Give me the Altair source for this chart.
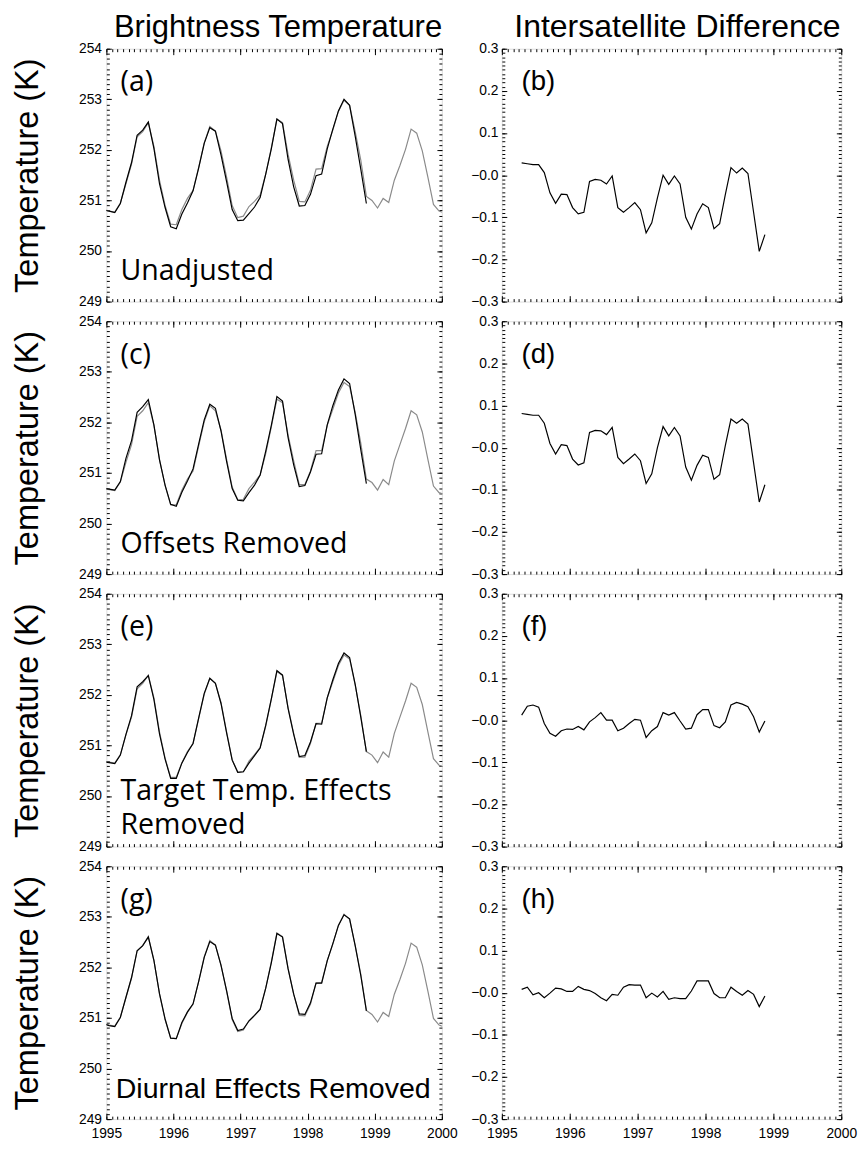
import altair as alt
import pandas as pd

FONT = "Liberation Sans"
FONT2 = "Open Sans"

# Monthly values; first value of each array belongs to month index k_start
# (k = 0 -> Jan 1995, plotted at mid-month)
gray_a = [250.82, 250.79, 250.77, 250.95, 251.33, 251.72, 252.26, 252.36, 252.54, 252.07,
          251.40, 250.90, 250.53, 250.52, 250.82, 251.04, 251.20, 251.65, 252.14, 252.46,
          252.37, 251.98, 251.46, 250.90, 250.66, 250.69, 250.88, 250.98, 251.11, 251.52,
          252.04, 252.61, 252.54, 251.91, 251.40, 250.98, 250.97, 251.20, 251.62, 251.63,
          252.07, 252.39, 252.76, 252.98, 252.88, 252.36, 251.80, 251.08, 251.00, 250.85,
          251.04, 250.96, 251.40, 251.69, 252.01, 252.41, 252.33, 251.98, 251.46, 250.92,
          250.79, 250.75]
black_a = [250.81, 250.79, 250.76, 250.94, 251.36, 251.75, 252.29, 252.39, 252.55, 252.03,
           251.33, 250.86, 250.48, 250.44, 250.73, 250.95, 251.19, 251.64, 252.13, 252.44,
           252.37, 251.90, 251.37, 250.82, 250.60, 250.61, 250.74, 250.87, 251.06, 251.52,
           252.02, 252.61, 252.52, 251.81, 251.27, 250.89, 250.90, 251.12, 251.49, 251.52,
           252.02, 252.41, 252.77, 253.00, 252.88, 252.27, 251.62, 250.94]
gray_c = [250.69, 250.67, 250.65, 250.82, 251.21, 251.56, 252.12, 252.23, 252.39, 251.94,
          251.27, 250.75, 250.37, 250.37, 250.66, 250.88, 251.04, 251.53, 252.01, 252.33,
          252.23, 251.85, 251.27, 250.72, 250.47, 250.48, 250.69, 250.82, 250.96, 251.38,
          251.91, 252.46, 252.39, 251.75, 251.24, 250.77, 250.77, 251.04, 251.44, 251.44,
          251.94, 252.26, 252.58, 252.79, 252.71, 252.20, 251.59, 250.88, 250.81, 250.66,
          250.87, 250.77, 251.24, 251.56, 251.88, 252.23, 252.15, 251.81, 251.27, 250.74,
          250.61, 250.57]
black_c = [250.70, 250.68, 250.66, 250.83, 251.29, 251.64, 252.20, 252.31, 252.45, 251.95,
           251.26, 250.76, 250.38, 250.34, 250.62, 250.84, 251.08, 251.57, 252.05, 252.36,
           252.28, 251.83, 251.23, 250.69, 250.46, 250.45, 250.61, 250.76, 250.96, 251.43,
           251.94, 252.51, 252.42, 251.70, 251.16, 250.73, 250.75, 251.02, 251.37, 251.38,
           251.95, 252.33, 252.64, 252.86, 252.77, 252.16, 251.46, 250.79]
gray_e = [250.69, 250.67, 250.65, 250.82, 251.21, 251.56, 252.12, 252.23, 252.39, 251.94,
          251.27, 250.75, 250.37, 250.37, 250.66, 250.88, 251.04, 251.53, 252.01, 252.33,
          252.23, 251.85, 251.27, 250.72, 250.47, 250.48, 250.69, 250.82, 250.96, 251.38,
          251.91, 252.46, 252.39, 251.75, 251.24, 250.77, 250.77, 251.04, 251.44, 251.44,
          251.94, 252.26, 252.58, 252.79, 252.71, 252.20, 251.59, 250.88, 250.81, 250.66,
          250.87, 250.77, 251.24, 251.56, 251.88, 252.23, 252.15, 251.81, 251.27, 250.74,
          250.61, 250.57]
black_e = [250.68, 250.66, 250.64, 250.81, 251.22, 251.59, 252.16, 252.26, 252.38, 251.91,
           251.23, 250.73, 250.35, 250.35, 250.65, 250.86, 251.04, 251.54, 252.03, 252.33,
           252.23, 251.83, 251.25, 250.71, 250.47, 250.48, 250.65, 250.80, 250.95, 251.40,
           251.92, 252.48, 252.39, 251.73, 251.22, 250.78, 250.80, 251.07, 251.43, 251.42,
           251.94, 252.30, 252.62, 252.83, 252.74, 252.21, 251.56, 250.88]
gray_g = [250.89, 250.86, 250.84, 251.02, 251.40, 251.79, 252.33, 252.43, 252.61, 252.14,
          251.47, 250.97, 250.60, 250.59, 250.89, 251.11, 251.27, 251.72, 252.21, 252.53,
          252.44, 252.05, 251.53, 250.97, 250.73, 250.76, 250.95, 251.05, 251.18, 251.59,
          252.11, 252.68, 252.61, 251.98, 251.47, 251.05, 251.04, 251.27, 251.69, 251.70,
          252.14, 252.46, 252.83, 253.05, 252.95, 252.43, 251.87, 251.15, 251.07, 250.92,
          251.11, 251.03, 251.47, 251.76, 252.08, 252.48, 252.40, 252.05, 251.53, 250.99,
          250.86, 250.82]
black_g = [250.88, 250.85, 250.83, 251.01, 251.41, 251.80, 252.33, 252.43, 252.60, 252.14,
           251.48, 250.98, 250.60, 250.59, 250.91, 251.12, 251.28, 251.72, 252.20, 252.51,
           252.44, 252.04, 251.54, 250.99, 250.75, 250.78, 250.94, 251.05, 251.17, 251.59,
           252.09, 252.67, 252.60, 251.97, 251.47, 251.08, 251.07, 251.30, 251.69, 251.69,
           252.13, 252.47, 252.83, 253.04, 252.96, 252.43, 251.84, 251.14]

diff_b = [0.029, 0.027, 0.025, 0.025, 0.006, -0.042, -0.067, -0.045, -0.046, -0.077,
          -0.092, -0.088, -0.015, -0.010, -0.012, -0.021, -0.002, -0.077, -0.088, -0.077,
          -0.065, -0.082, -0.137, -0.113, -0.054, 0.000, -0.022, -0.002, -0.021, -0.100,
          -0.128, -0.092, -0.068, -0.077, -0.127, -0.115, -0.046, 0.018, 0.005, 0.017,
          0.004, -0.088, -0.181, -0.141]
diff_d = [0.081, 0.079, 0.077, 0.077, 0.058, 0.010, -0.015, 0.007, 0.005, -0.027,
          -0.041, -0.036, 0.036, 0.041, 0.040, 0.031, 0.048, -0.023, -0.038, -0.027,
          -0.015, -0.031, -0.085, -0.062, 0.000, 0.050, 0.028, 0.048, 0.028, -0.046,
          -0.077, -0.042, -0.018, -0.023, -0.075, -0.064, 0.005, 0.068, 0.058, 0.068,
          0.056, -0.036, -0.129, -0.088]
diff_f = [0.012, 0.033, 0.036, 0.031, -0.008, -0.031, -0.038, -0.025, -0.021, -0.022,
          -0.015, -0.023, -0.004, 0.006, 0.018, 0.000, 0.000, -0.025, -0.019, -0.008,
          0.002, 0.000, -0.041, -0.025, -0.015, 0.018, 0.012, 0.018, -0.002, -0.021,
          -0.019, 0.013, 0.025, 0.025, -0.013, -0.018, -0.004, 0.036, 0.042, 0.038,
          0.032, 0.008, -0.028, -0.002]
diff_h = [0.008, 0.013, -0.005, 0.000, -0.012, -0.001, 0.011, 0.009, 0.003, 0.003,
          0.015, 0.008, 0.005, -0.002, -0.012, -0.019, -0.004, -0.006, 0.013, 0.019,
          0.018, 0.018, -0.012, -0.001, -0.010, 0.003, -0.016, -0.012, -0.014, -0.014,
          0.004, 0.028, 0.028, 0.028, -0.002, -0.012, -0.012, 0.013, 0.003, -0.006,
          0.005, -0.004, -0.033, -0.008]

K_TEMP_START = -1
K_DIFF_START = 3

col_titles = ["Brightness Temperature", "Intersatellite Difference"]
left_letters = ["(a)", "(c)", "(e)", "(g)"]
right_letters = ["(b)", "(d)", "(f)", "(h)"]
left_notes = [["Unadjusted"], ["Offsets Removed"], ["Target Temp. Effects", "Removed"],
              ["Diurnal Effects Removed"]]
note_fonts = [FONT2, FONT2, FONT2, FONT]

years = [1995, 1996, 1997, 1998, 1999, 2000]
month_ticks = [1995 + i / 12 for i in range(61)]
t_major = [249, 250, 251, 252, 253, 254]
t_minor = [round(249 + i / 10, 2) for i in range(51)]
d_major = [-0.3, -0.2, -0.1, 0.0, 0.1, 0.2, 0.3]
d_minor = [round(-0.3 + i / 100, 3) for i in range(61)]

W_L, W_R, H = 341, 345, 257
XSC = alt.Scale(domain=[1995, 2000], nice=False, zero=False)
TSC = alt.Scale(domain=[249, 254], nice=False, zero=False)
DSC = alt.Scale(domain=[-0.3, 0.3], nice=False, zero=False)
LBL = 14


def series(vals, k0):
    return pd.DataFrame({"t": [1995 + (k0 + i + 0.5) / 12 for i in range(len(vals))], "v": vals})


def ax(orient, values, size, labels=False, **kw):
    return alt.Axis(orient=orient, values=values, tickSize=size, offset=-size, domain=False,
                    grid=False, ticks=True, tickColor="black", tickWidth=1, labels=labels,
                    labelOverlap=False, labelFlush=False, labelColor="black", labelFont=FONT,
                    labelFontSize=LBL, **kw)


def frame_layers(df, ysc, ymaj, ymin, last_row, ylabels_kw, line_marks):
    xb = dict(labels=last_row, format="d", labelPadding=8, title=None)
    l1 = line_marks[0].encode(
        x=alt.X("t:Q", scale=XSC, axis=ax("bottom", years, 6, **xb)),
        y=alt.Y("v:Q", scale=ysc, axis=ax("left", ymaj, 5, **ylabels_kw)))
    l2 = line_marks[1].encode(
        x=alt.X("t:Q", scale=XSC, axis=ax("top", years, 6, title=None)),
        y=alt.Y("v:Q", scale=ysc, axis=ax("right", ymaj, 5, title=None)))
    l3 = alt.Chart(df).mark_line(opacity=0).encode(
        x=alt.X("t:Q", scale=XSC, axis=ax("bottom", month_ticks, 3, title=None)),
        y=alt.Y("v:Q", scale=ysc, axis=ax("left", ymin, 3, title=None)))
    l4 = alt.Chart(df).mark_line(opacity=0).encode(
        x=alt.X("t:Q", scale=XSC, axis=ax("top", month_ticks, 3, title=None)),
        y=alt.Y("v:Q", scale=ysc, axis=ax("right", ymin, 3, title=None)))
    return [l1, l2, l3, l4]


def text_layer(df, font, size, ysc):
    return alt.Chart(df).mark_text(align="left", baseline="middle", font=font, fontSize=size,
                                   color="black").encode(
        x=alt.X("t:Q", scale=XSC, axis=None),
        y=alt.Y("v:Q", scale=ysc, axis=None),
        text="s:N")


def left_panel(i, gray, black, last_row):
    g = series(gray, K_TEMP_START)
    b = series(black, K_TEMP_START)
    lm = [alt.Chart(g).mark_line(color="#8a8a8a", strokeWidth=1.2, clip=True),
          alt.Chart(b).mark_line(color="black", strokeWidth=1.2, clip=True)]
    ykw = dict(labels=True, format="d", labelPadding=5, title="Temperature (K)",
               titleFont=FONT, titleFontSize=33, titleFontWeight="normal", titleColor="black",
               titlePadding=35)
    layers = frame_layers(g, TSC, t_major, t_minor, last_row, ykw, lm)
    letter = pd.DataFrame({"t": [1995.21], "v": [253.33], "s": [left_letters[i]]})
    layers.append(text_layer(letter, FONT2, 29, TSC))
    notes = left_notes[i]
    if len(notes) == 1:
        nd = pd.DataFrame({"t": [1995.21 if i < 3 else 1995.14], "v": [249.6], "s": notes})
    else:
        nd = pd.DataFrame({"t": [1995.21, 1995.21], "v": [250.1, 249.42], "s": notes})
    layers.append(text_layer(nd, note_fonts[i], 29, TSC))
    ch = alt.layer(*layers).resolve_axis(x="independent", y="independent").properties(
        width=W_L, height=H)
    if i == 0:
        ch = ch.properties(title=alt.TitleParams(col_titles[0], font=FONT, fontSize=31.5,
                                                 fontWeight="normal", color="black",
                                                 anchor="middle", dx=4, offset=-2))
    return ch


def right_panel(i, diff, last_row):
    d = series(diff, K_DIFF_START)
    lm = [alt.Chart(d).mark_line(color="black", strokeWidth=1.2),
          alt.Chart(d).mark_line(opacity=0)]
    ykw = dict(labels=True, labelPadding=4, title=None,
               labelExpr="abs(datum.value) < 1e-9 ? '\u22120.0' : (datum.value < 0 ? '\u2212' + format(-datum.value, '.1f') : format(datum.value, '.1f'))")
    layers = frame_layers(d, DSC, d_major, d_minor, last_row, ykw, lm)
    letter = pd.DataFrame({"t": [1995.29], "v": [0.22], "s": [right_letters[i]]})
    layers.append(text_layer(letter, FONT, 28, DSC))
    ch = alt.layer(*layers).resolve_axis(x="independent", y="independent").properties(
        width=W_R, height=H)
    if i == 0:
        ch = ch.properties(title=alt.TitleParams(col_titles[1], font=FONT, fontSize=32.5,
                                                 fontWeight="normal", color="black",
                                                 anchor="middle", dx=6, offset=-2))
    return ch


grays = [gray_a, gray_c, gray_e, gray_g]
blacks = [black_a, black_c, black_e, black_g]
diffs = [diff_b, diff_d, diff_f, diff_h]

left_col = alt.vconcat(*[left_panel(i, grays[i], blacks[i], i == 3) for i in range(4)],
                       spacing=4)
right_col = alt.vconcat(*[right_panel(i, diffs[i], i == 3) for i in range(4)], spacing=4)

chart = alt.hconcat(left_col, right_col, spacing=11).properties(
    padding={"left": 3, "top": -6, "right": 0, "bottom": 0}
).configure_view(stroke="black", strokeWidth=1.3).configure(background="white")

chart.save("out.html", embed_options={"renderer": "svg", "actions": False})
